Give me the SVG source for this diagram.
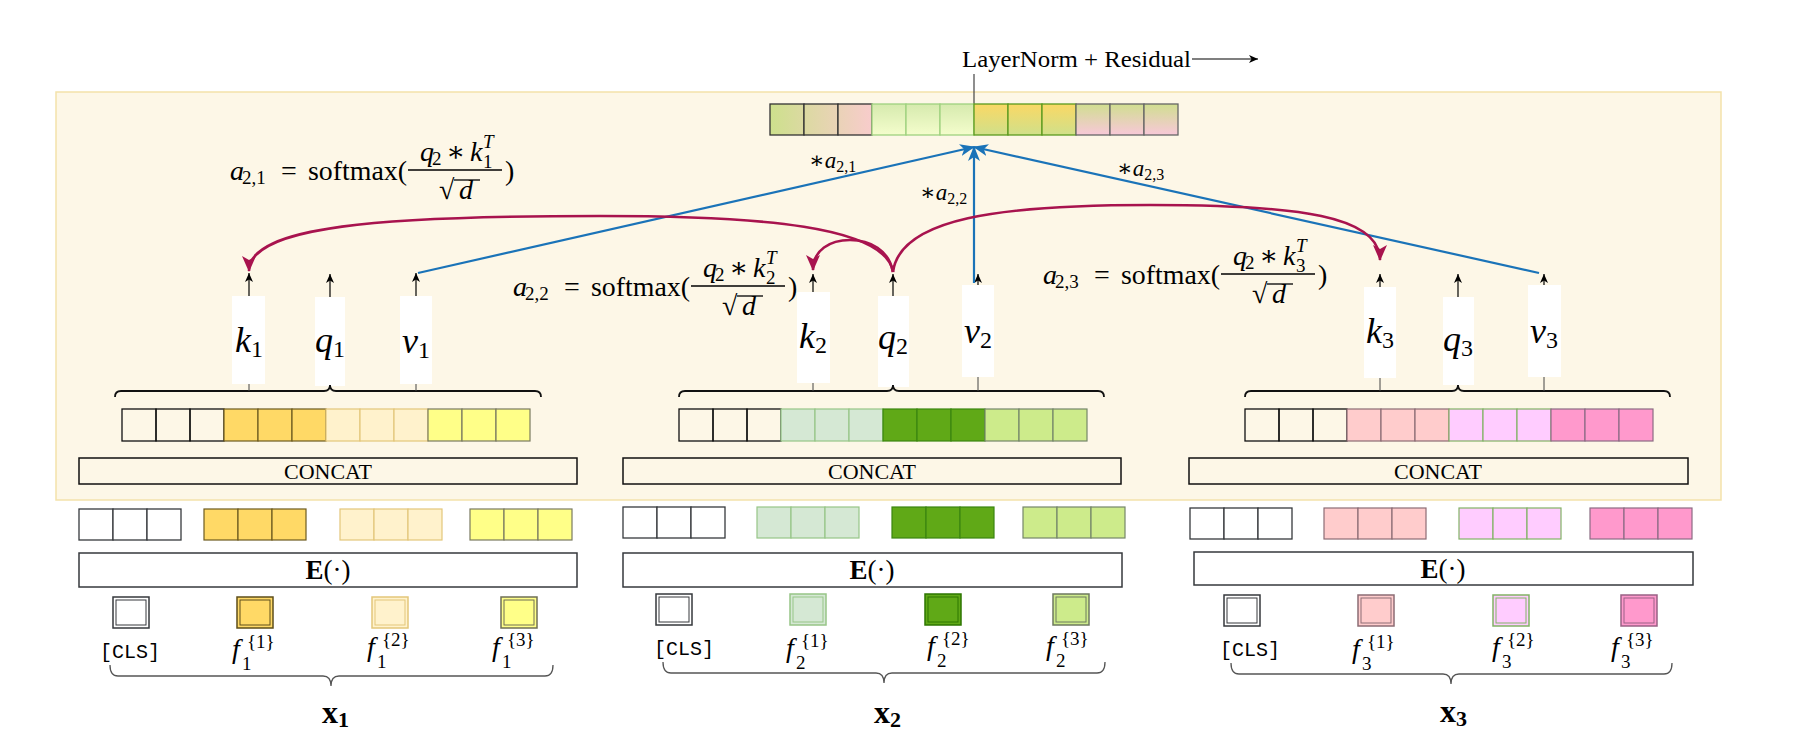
<svg xmlns="http://www.w3.org/2000/svg" width="1794" height="742" viewBox="0 0 1794 742">
<style>
.t{font-family:"Liberation Serif","Times New Roman","DejaVu Serif",serif;fill:#000}
.m{font-size:28px}
.it{font-style:italic}
.s19{font-size:19px}
.lbl{font-size:36px}
.mono{font-family:"Liberation Mono","Courier New",monospace;font-size:20px;fill:#000}
.ln{stroke:#000;stroke-width:1.2;fill:none}
.bar{fill:#fff;stroke:none}
.red{stroke:#a8134e;stroke-width:2.6;fill:none}
.blue{stroke:#1a73b8;stroke-width:2.2;fill:none}
.brace{stroke:#111;stroke-width:1.8;fill:none}
.brace2{stroke:#555;stroke-width:1.3;fill:none}
.box{fill:#fdf7e7;stroke:#111;stroke-width:1.5}
.ebox{fill:#fff;stroke:#36393d;stroke-width:1.5}
.cw{fill:none;stroke:#111;stroke-width:1.3}
.ew{fill:#fff;stroke:#36393d;stroke-width:1.3}
.gold{fill:#ffd966;stroke:#6d5a1e;stroke-width:1.2}
.ly{fill:#fff2cc;stroke:#e3c67a;stroke-width:1.2}
.yel{fill:#ffff88;stroke:#7a7a60;stroke-width:1.2}
.lg{fill:#d5e8d4;stroke:#97c587;stroke-width:1.2}
.dg{fill:#60a917;stroke:#3b8610;stroke-width:1.2}
.lime{fill:#cdeb8b;stroke:#75866a;stroke-width:1.2}
.pk{fill:#ffcccc;stroke:#8c6c74;stroke-width:1.2}
.mg{fill:#ffccff;stroke:#82b366;stroke-width:1.2}
.hp{fill:#ff99cc;stroke:#8c6c84;stroke-width:1.2}
</style>
<defs>
<marker id="ab" markerUnits="userSpaceOnUse" markerWidth="9" markerHeight="8" refX="9" refY="4" orient="auto"><path d="M0,0 L9,4 L0,8 L2.5,4 z" fill="#000"/></marker>
<marker id="ar" markerUnits="userSpaceOnUse" markerWidth="16" markerHeight="14" refX="15" refY="7" orient="auto"><path d="M0,0 L16,7 L0,14 L4,7 z" fill="#a8134e"/></marker>
<marker id="au" markerUnits="userSpaceOnUse" markerWidth="15" markerHeight="12" refX="14" refY="6" orient="auto"><path d="M0,0 L15,6 L0,12 L4,6 z" fill="#1a73b8"/></marker>
<linearGradient id="gA" gradientUnits="userSpaceOnUse" x1="770" y1="0" x2="872" y2="0"><stop offset="0" stop-color="#cde08c"/><stop offset="1" stop-color="#f8cccc"/></linearGradient>
<linearGradient id="gB" x1="0" y1="0" x2="0" y2="1"><stop offset="0" stop-color="#d6eaae"/><stop offset="1" stop-color="#f4fdcc"/></linearGradient>
<linearGradient id="gC" x1="0" y1="0" x2="0" y2="1"><stop offset="0" stop-color="#fad865"/><stop offset="1" stop-color="#d0e08a"/></linearGradient>
<linearGradient id="gD" x1="0" y1="0" x2="0" y2="1"><stop offset="0" stop-color="#d0de90"/><stop offset="1" stop-color="#f8c8d8"/></linearGradient>
</defs>

<rect id="attention-panel" x="56" y="92" width="1665" height="408" fill="#fdf7e7" stroke="#f3e2ab" stroke-width="1.5"/>

<g id="output">
<text class="t" x="962" y="67" font-size="24" textLength="229" lengthAdjust="spacingAndGlyphs">LayerNorm + Residual</text>
<line x1="1192" y1="59" x2="1258" y2="59" class="ln" marker-end="url(#ab)"/>
<line x1="974" y1="74" x2="974" y2="104" stroke="#444" stroke-width="1.2"/>
<g stroke="#333" stroke-width="1.3" fill="url(#gA)">
<rect x="770" y="104" width="34" height="31"/><rect x="804" y="104" width="34" height="31"/><rect x="838" y="104" width="34" height="31"/>
</g>
<g stroke="#9fd27f" stroke-width="1.3" fill="url(#gB)">
<rect x="872" y="104" width="34" height="31"/><rect x="906" y="104" width="34" height="31"/><rect x="940" y="104" width="34" height="31"/>
</g>
<g stroke="#5b9a1e" stroke-width="1.3" fill="url(#gC)">
<rect x="974" y="104" width="34" height="31"/><rect x="1008" y="104" width="34" height="31"/><rect x="1042" y="104" width="34" height="31"/>
</g>
<g stroke="#666" stroke-width="1.3" fill="url(#gD)">
<rect x="1076" y="104" width="34" height="31"/><rect x="1110" y="104" width="34" height="31"/><rect x="1144" y="104" width="34" height="31"/>
</g>
</g>

<g id="formula-a21" class="t" transform="translate(230,170)">
<text class="m it" x="0" y="10">a</text><text class="s19" x="12" y="14">2,1</text>
<text class="m" x="51" y="10">=</text>
<text class="m" x="78" y="10" textLength="99" lengthAdjust="spacingAndGlyphs">softmax(</text>
<line x1="178" y1="0" x2="272" y2="0" stroke="#000" stroke-width="1.4"/>
<text class="m it" x="190" y="-9">q</text><text class="s19" x="202" y="-5">2</text>
<text class="m" x="216" y="-9">∗</text>
<text class="m it" x="240" y="-9">k</text><text class="s19 it" x="253" y="-22">T</text><text class="s19" x="253" y="-2">1</text>
<text class="m" x="209" y="29">√</text><line x1="224" y1="10" x2="250" y2="10" stroke="#000" stroke-width="1.3"/>
<text class="m it" x="229" y="29">d</text>
<text class="m" x="275" y="10">)</text>
</g>
<g id="formula-a22" class="t" transform="translate(513,286)">
<text class="m it" x="0" y="10">a</text><text class="s19" x="12" y="14">2,2</text>
<text class="m" x="51" y="10">=</text>
<text class="m" x="78" y="10" textLength="99" lengthAdjust="spacingAndGlyphs">softmax(</text>
<line x1="178" y1="0" x2="272" y2="0" stroke="#000" stroke-width="1.4"/>
<text class="m it" x="190" y="-9">q</text><text class="s19" x="202" y="-5">2</text>
<text class="m" x="216" y="-9">∗</text>
<text class="m it" x="240" y="-9">k</text><text class="s19 it" x="253" y="-22">T</text><text class="s19" x="253" y="-2">2</text>
<text class="m" x="209" y="29">√</text><line x1="224" y1="10" x2="250" y2="10" stroke="#000" stroke-width="1.3"/>
<text class="m it" x="229" y="29">d</text>
<text class="m" x="275" y="10">)</text>
</g>
<g id="formula-a23" class="t" transform="translate(1043,274)">
<text class="m it" x="0" y="10">a</text><text class="s19" x="12" y="14">2,3</text>
<text class="m" x="51" y="10">=</text>
<text class="m" x="78" y="10" textLength="99" lengthAdjust="spacingAndGlyphs">softmax(</text>
<line x1="178" y1="0" x2="272" y2="0" stroke="#000" stroke-width="1.4"/>
<text class="m it" x="190" y="-9">q</text><text class="s19" x="202" y="-5">2</text>
<text class="m" x="216" y="-9">∗</text>
<text class="m it" x="240" y="-9">k</text><text class="s19 it" x="253" y="-22">T</text><text class="s19" x="253" y="-2">3</text>
<text class="m" x="209" y="29">√</text><line x1="224" y1="10" x2="250" y2="10" stroke="#000" stroke-width="1.3"/>
<text class="m it" x="229" y="29">d</text>
<text class="m" x="275" y="10">)</text>
</g>

<g id="kqv-1">
<rect class="bar" x="232" y="296" width="33" height="88"/>
<rect class="bar" x="315" y="297" width="30" height="89"/>
<rect class="bar" x="400" y="296" width="32" height="88"/>
<text class="t lbl" x="249" y="352" text-anchor="middle"><tspan class="it">k</tspan><tspan font-size="24" dy="5">1</tspan></text>
<text class="t lbl" x="330" y="352" text-anchor="middle"><tspan class="it">q</tspan><tspan font-size="24" dy="5">1</tspan></text>
<text class="t lbl" x="416" y="353" text-anchor="middle"><tspan class="it">v</tspan><tspan font-size="24" dy="5">1</tspan></text>
</g>
<g id="kqv-2">
<rect class="bar" x="797" y="292" width="33" height="91"/>
<rect class="bar" x="878" y="296" width="31" height="91"/>
<rect class="bar" x="962" y="285" width="32" height="92"/>
<text class="t lbl" x="813" y="348" text-anchor="middle"><tspan class="it">k</tspan><tspan font-size="24" dy="5">2</tspan></text>
<text class="t lbl" x="893" y="349" text-anchor="middle"><tspan class="it">q</tspan><tspan font-size="24" dy="5">2</tspan></text>
<text class="t lbl" x="978" y="343" text-anchor="middle"><tspan class="it">v</tspan><tspan font-size="24" dy="5">2</tspan></text>
</g>
<g id="kqv-3">
<rect class="bar" x="1364" y="287" width="32" height="91"/>
<rect class="bar" x="1443" y="297" width="31" height="88"/>
<rect class="bar" x="1528" y="285" width="33" height="92"/>
<text class="t lbl" x="1380" y="343" text-anchor="middle"><tspan class="it">k</tspan><tspan font-size="24" dy="5">3</tspan></text>
<text class="t lbl" x="1458" y="351" text-anchor="middle"><tspan class="it">q</tspan><tspan font-size="24" dy="5">3</tspan></text>
<text class="t lbl" x="1544" y="343" text-anchor="middle"><tspan class="it">v</tspan><tspan font-size="24" dy="5">3</tspan></text>
</g>

<g id="concat-row-1">
<rect class="cw" x="122" y="409" width="34" height="32"/><rect class="cw" x="156" y="409" width="34" height="32"/><rect class="cw" x="190" y="409" width="34" height="32"/>
<rect class="gold" x="224" y="409" width="34" height="32"/><rect class="gold" x="258" y="409" width="34" height="32"/><rect class="gold" x="292" y="409" width="34" height="32"/>
<rect class="ly" x="326" y="409" width="34" height="32"/><rect class="ly" x="360" y="409" width="34" height="32"/><rect class="ly" x="394" y="409" width="34" height="32"/>
<rect class="yel" x="428" y="409" width="34" height="32"/><rect class="yel" x="462" y="409" width="34" height="32"/><rect class="yel" x="496" y="409" width="34" height="32"/>
</g>
<g id="concat-row-2">
<rect class="cw" x="679" y="409" width="34" height="32"/><rect class="cw" x="713" y="409" width="34" height="32"/><rect class="cw" x="747" y="409" width="34" height="32"/>
<rect class="lg" x="781" y="409" width="34" height="32"/><rect class="lg" x="815" y="409" width="34" height="32"/><rect class="lg" x="849" y="409" width="34" height="32"/>
<rect class="dg" x="883" y="409" width="34" height="32"/><rect class="dg" x="917" y="409" width="34" height="32"/><rect class="dg" x="951" y="409" width="34" height="32"/>
<rect class="lime" x="985" y="409" width="34" height="32"/><rect class="lime" x="1019" y="409" width="34" height="32"/><rect class="lime" x="1053" y="409" width="34" height="32"/>
</g>
<g id="concat-row-3">
<rect class="cw" x="1245" y="409" width="34" height="32"/><rect class="cw" x="1279" y="409" width="34" height="32"/><rect class="cw" x="1313" y="409" width="34" height="32"/>
<rect class="pk" x="1347" y="409" width="34" height="32"/><rect class="pk" x="1381" y="409" width="34" height="32"/><rect class="pk" x="1415" y="409" width="34" height="32"/>
<rect class="mg" x="1449" y="409" width="34" height="32"/><rect class="mg" x="1483" y="409" width="34" height="32"/><rect class="mg" x="1517" y="409" width="34" height="32"/>
<rect class="hp" x="1551" y="409" width="34" height="32"/><rect class="hp" x="1585" y="409" width="34" height="32"/><rect class="hp" x="1619" y="409" width="34" height="32"/>
</g>

<g id="concat-1"><rect class="box" x="79" y="458" width="498" height="26"/><text class="t" x="328" y="479" font-size="22" text-anchor="middle">CONCAT</text></g>
<g id="concat-2"><rect class="box" x="623" y="458" width="498" height="26"/><text class="t" x="872" y="479" font-size="22" text-anchor="middle">CONCAT</text></g>
<g id="concat-3"><rect class="box" x="1189" y="458" width="499" height="26"/><text class="t" x="1438" y="479" font-size="22" text-anchor="middle">CONCAT</text></g>

<g id="emb-row-1">
<rect class="ew" x="79" y="509" width="34" height="31"/><rect class="ew" x="113" y="509" width="34" height="31"/><rect class="ew" x="147" y="509" width="34" height="31"/>
<rect class="gold" x="204" y="509" width="34" height="31"/><rect class="gold" x="238" y="509" width="34" height="31"/><rect class="gold" x="272" y="509" width="34" height="31"/>
<rect class="ly" x="340" y="509" width="34" height="31"/><rect class="ly" x="374" y="509" width="34" height="31"/><rect class="ly" x="408" y="509" width="34" height="31"/>
<rect class="yel" x="470" y="509" width="34" height="31"/><rect class="yel" x="504" y="509" width="34" height="31"/><rect class="yel" x="538" y="509" width="34" height="31"/>
</g>
<g id="emb-row-2">
<rect class="ew" x="623" y="507" width="34" height="31"/><rect class="ew" x="657" y="507" width="34" height="31"/><rect class="ew" x="691" y="507" width="34" height="31"/>
<rect class="lg" x="757" y="507" width="34" height="31"/><rect class="lg" x="791" y="507" width="34" height="31"/><rect class="lg" x="825" y="507" width="34" height="31"/>
<rect class="dg" x="892" y="507" width="34" height="31"/><rect class="dg" x="926" y="507" width="34" height="31"/><rect class="dg" x="960" y="507" width="34" height="31"/>
<rect class="lime" x="1023" y="507" width="34" height="31"/><rect class="lime" x="1057" y="507" width="34" height="31"/><rect class="lime" x="1091" y="507" width="34" height="31"/>
</g>
<g id="emb-row-3">
<rect class="ew" x="1190" y="508" width="34" height="31"/><rect class="ew" x="1224" y="508" width="34" height="31"/><rect class="ew" x="1258" y="508" width="34" height="31"/>
<rect class="pk" x="1324" y="508" width="34" height="31"/><rect class="pk" x="1358" y="508" width="34" height="31"/><rect class="pk" x="1392" y="508" width="34" height="31"/>
<rect class="mg" x="1459" y="508" width="34" height="31"/><rect class="mg" x="1493" y="508" width="34" height="31"/><rect class="mg" x="1527" y="508" width="34" height="31"/>
<rect class="hp" x="1590" y="508" width="34" height="31"/><rect class="hp" x="1624" y="508" width="34" height="31"/><rect class="hp" x="1658" y="508" width="34" height="31"/>
</g>

<g id="encoder-1"><rect class="ebox" x="79" y="553" width="498" height="34"/><text class="t" x="328" y="579" font-size="27" text-anchor="middle"><tspan font-weight="bold">E</tspan>(·)</text></g>
<g id="encoder-2"><rect class="ebox" x="623" y="553" width="499" height="34"/><text class="t" x="872" y="579" font-size="27" text-anchor="middle"><tspan font-weight="bold">E</tspan>(·)</text></g>
<g id="encoder-3"><rect class="ebox" x="1194" y="552" width="499" height="33"/><text class="t" x="1443" y="578" font-size="27" text-anchor="middle"><tspan font-weight="bold">E</tspan>(·)</text></g>

<g id="tokens-1">
<rect x="113" y="597" width="36" height="31" fill="#fff" stroke="#36393d" stroke-width="1.5"/><rect x="116" y="600" width="30" height="25" fill="none" stroke="#36393d" stroke-width="1"/>
<rect x="237" y="597" width="36" height="31" fill="#ffd966" stroke="#5e4e1a" stroke-width="1.5"/><rect x="240" y="600" width="30" height="25" fill="none" stroke="#5e4e1a" stroke-width="1"/>
<rect x="372" y="597" width="36" height="31" fill="#fff2cc" stroke="#e3c67a" stroke-width="1.5"/><rect x="375" y="600" width="30" height="25" fill="none" stroke="#e3c67a" stroke-width="1"/>
<rect x="501" y="597" width="36" height="31" fill="#ffff88" stroke="#6f6f55" stroke-width="1.5"/><rect x="504" y="600" width="30" height="25" fill="none" stroke="#6f6f55" stroke-width="1"/>
<text class="mono" x="130" y="658" text-anchor="middle">[CLS]</text>
<text class="t" x="232" y="658"><tspan class="it" font-size="28">f</tspan></text><text class="t s19" x="242" y="670">1</text><text class="t s19" x="247" y="648">{1}</text>
<text class="t" x="367" y="656"><tspan class="it" font-size="28">f</tspan></text><text class="t s19" x="377" y="668">1</text><text class="t s19" x="382" y="646">{2}</text>
<text class="t" x="492" y="656"><tspan class="it" font-size="28">f</tspan></text><text class="t s19" x="502" y="668">1</text><text class="t s19" x="507" y="646">{3}</text>
</g>
<g id="tokens-2">
<rect x="656" y="594" width="36" height="31" fill="#fff" stroke="#36393d" stroke-width="1.5"/><rect x="659" y="597" width="30" height="25" fill="none" stroke="#36393d" stroke-width="1"/>
<rect x="790" y="594" width="36" height="31" fill="#d5e8d4" stroke="#97c587" stroke-width="1.5"/><rect x="793" y="597" width="30" height="25" fill="none" stroke="#97c587" stroke-width="1"/>
<rect x="925" y="594" width="36" height="31" fill="#60a917" stroke="#2d7600" stroke-width="1.5"/><rect x="928" y="597" width="30" height="25" fill="none" stroke="#2d7600" stroke-width="1"/>
<rect x="1053" y="594" width="36" height="31" fill="#cdeb8b" stroke="#6d7a5f" stroke-width="1.5"/><rect x="1056" y="597" width="30" height="25" fill="none" stroke="#6d7a5f" stroke-width="1"/>
<text class="mono" x="684" y="655" text-anchor="middle">[CLS]</text>
<text class="t" x="786" y="657"><tspan class="it" font-size="28">f</tspan></text><text class="t s19" x="796" y="669">2</text><text class="t s19" x="801" y="647">{1}</text>
<text class="t" x="927" y="655"><tspan class="it" font-size="28">f</tspan></text><text class="t s19" x="937" y="667">2</text><text class="t s19" x="942" y="645">{2}</text>
<text class="t" x="1046" y="655"><tspan class="it" font-size="28">f</tspan></text><text class="t s19" x="1056" y="667">2</text><text class="t s19" x="1061" y="645">{3}</text>
</g>
<g id="tokens-3">
<rect x="1224" y="595" width="36" height="31" fill="#fff" stroke="#36393d" stroke-width="1.5"/><rect x="1227" y="598" width="30" height="25" fill="none" stroke="#36393d" stroke-width="1"/>
<rect x="1358" y="595" width="36" height="31" fill="#ffcccc" stroke="#8c6c74" stroke-width="1.5"/><rect x="1361" y="598" width="30" height="25" fill="none" stroke="#8c6c74" stroke-width="1"/>
<rect x="1493" y="595" width="36" height="31" fill="#ffccff" stroke="#82b366" stroke-width="1.5"/><rect x="1496" y="598" width="30" height="25" fill="none" stroke="#82b366" stroke-width="1"/>
<rect x="1621" y="595" width="36" height="31" fill="#ff99cc" stroke="#996185" stroke-width="1.5"/><rect x="1624" y="598" width="30" height="25" fill="none" stroke="#996185" stroke-width="1"/>
<text class="mono" x="1250" y="656" text-anchor="middle">[CLS]</text>
<text class="t" x="1352" y="658"><tspan class="it" font-size="28">f</tspan></text><text class="t s19" x="1362" y="670">3</text><text class="t s19" x="1367" y="648">{1}</text>
<text class="t" x="1492" y="656"><tspan class="it" font-size="28">f</tspan></text><text class="t s19" x="1502" y="668">3</text><text class="t s19" x="1507" y="646">{2}</text>
<text class="t" x="1611" y="656"><tspan class="it" font-size="28">f</tspan></text><text class="t s19" x="1621" y="668">3</text><text class="t s19" x="1626" y="646">{3}</text>
</g>

<g id="input-x1"><path class="brace2" d="M110,665 Q110,676 118,676 L323,676 Q331,676 331,686 Q331,676 339,676 L545,676 Q553,676 553,665"/><text class="t" x="322" y="723" font-size="32" font-weight="bold">x<tspan font-size="22" dy="4">1</tspan></text></g>
<g id="input-x2"><path class="brace2" d="M663,662 Q663,673 671,673 L876,673 Q884,673 884,683 Q884,673 892,673 L1097,673 Q1105,673 1105,662"/><text class="t" x="874" y="723" font-size="32" font-weight="bold">x<tspan font-size="22" dy="4">2</tspan></text></g>
<g id="input-x3"><path class="brace2" d="M1231,663 Q1231,674 1239,674 L1443,674 Q1451,674 1451,684 Q1451,674 1459,674 L1664,674 Q1672,674 1672,663"/><text class="t" x="1440" y="722" font-size="32" font-weight="bold">x<tspan font-size="22" dy="4">3</tspan></text></g>

<g id="connectors">
<path class="brace" d="M115,397 Q115,391 121,391 L324,391 Q330,391 330,385 Q330,391 336,391 L535,391 Q541,391 541,397"/>
<path class="brace" d="M679,397 Q679,391 685,391 L887,391 Q893,391 893,385 Q893,391 899,391 L1098,391 Q1104,391 1104,397"/>
<path class="brace" d="M1245,397 Q1245,391 1251,391 L1452,391 Q1458,391 1458,385 Q1458,391 1464,391 L1664,391 Q1670,391 1670,397"/>
<g stroke="#444" stroke-width="1">
<line x1="249" y1="384" x2="249" y2="391"/><line x1="416" y1="384" x2="416" y2="391"/>
<line x1="813" y1="383" x2="813" y2="391"/><line x1="978" y1="377" x2="978" y2="391"/>
<line x1="1380" y1="378" x2="1380" y2="391"/><line x1="1544" y1="377" x2="1544" y2="391"/>
</g>
<g class="ln" marker-end="url(#ab)">
<line x1="249" y1="296" x2="249" y2="273"/><line x1="330" y1="297" x2="330" y2="274"/><line x1="416" y1="296" x2="416" y2="273"/>
<line x1="813" y1="292" x2="813" y2="274"/><line x1="893" y1="296" x2="893" y2="274"/><line x1="978" y1="285" x2="978" y2="274"/>
<line x1="1380" y1="287" x2="1380" y2="274"/><line x1="1458" y1="297" x2="1458" y2="274"/><line x1="1544" y1="285" x2="1544" y2="274"/>
</g>
<path class="blue" d="M418,273 L974,147" marker-end="url(#au)"/>
<path class="blue" d="M974,283 L974,147" marker-end="url(#au)"/>
<path class="blue" d="M1539,273 L974,147" marker-end="url(#au)"/>
<path class="red" d="M893,272 C886,226 760,216 600,216 C380,216 249,226 249,271" marker-end="url(#ar)"/>
<path class="red" d="M893,272 C889,250 870,240 850,240 C830,240 813,250 813,270" marker-end="url(#ar)"/>
<path class="red" d="M893,272 C900,218 1000,205 1150,205 C1300,205 1380,216 1380,260" marker-end="url(#ar)"/>
<text class="t" x="809" y="168" font-size="23">∗<tspan class="it">a</tspan><tspan font-size="16" dy="4">2,1</tspan></text>
<text class="t" x="920" y="200" font-size="23">∗<tspan class="it">a</tspan><tspan font-size="16" dy="4">2,2</tspan></text>
<text class="t" x="1117" y="176" font-size="23">∗<tspan class="it">a</tspan><tspan font-size="16" dy="4">2,3</tspan></text>
</g>
</svg>
